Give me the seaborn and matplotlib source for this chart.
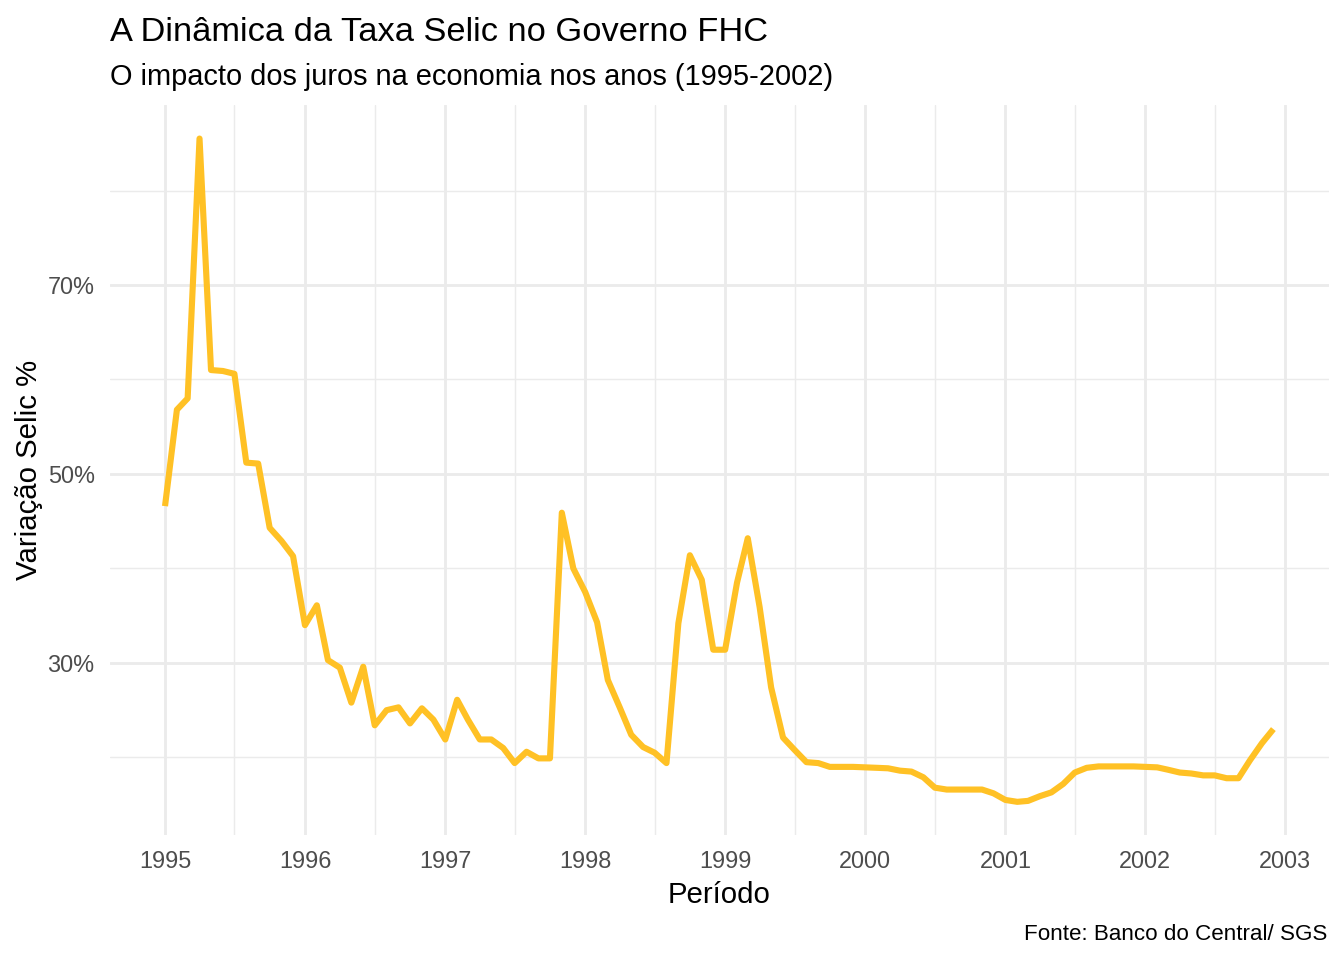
import matplotlib
matplotlib.use("Agg")
import matplotlib.pyplot as plt
import matplotlib.dates as mdates
from matplotlib.ticker import FixedLocator, FuncFormatter
import seaborn as sns
import pandas as pd

# ---- data ----
start_month = "1995-01-01"
n_months = 96
selic = [
    46.6, 56.8, 58.0, 85.5, 61.0, 60.9, 60.6, 51.2, 51.1, 44.3, 42.9, 41.3,   # 1995
    34.0, 36.1, 30.3, 29.5, 25.8, 29.6, 23.4, 25.0, 25.3, 23.6, 25.2, 24.0,   # 1996
    21.9, 26.1, 24.0, 21.9, 21.9, 21.0, 19.4, 20.6, 19.9, 19.9, 45.9, 40.0,   # 1997
    37.5, 34.3, 28.2, 25.3, 22.4, 21.1, 20.5, 19.4, 34.2, 41.4, 38.8, 31.4,   # 1998
    31.4, 38.5, 43.2, 35.9, 27.4, 22.1, 20.8, 19.5, 19.4, 19.0, 19.0, 19.0,   # 1999
    18.95, 18.9, 18.85, 18.6, 18.5, 17.9, 16.8, 16.6, 16.6, 16.6, 16.6, 16.2, # 2000
    15.5, 15.3, 15.4, 15.9, 16.3, 17.2, 18.4, 18.9, 19.05, 19.05, 19.05, 19.05, # 2001
    19.0, 18.95, 18.7, 18.4, 18.3, 18.1, 18.1, 17.8, 17.8, 19.7, 21.5, 23.0,  # 2002
]
y_major = [30, 50, 70]
y_minor = [20, 40, 60, 80]

title = "A Dinâmica da Taxa Selic no Governo FHC"
subtitle = "O impacto dos juros na economia nos anos (1995-2002)"
caption = "Fonte: Banco do Central/ SGS"
xlabel = "Período"
ylabel = "Variação Selic %"

df = pd.DataFrame({
    "data": pd.date_range(start_month, periods=n_months, freq="MS"),
    "selic": selic,
})

# ---- style ----
sns.set_theme(style="white")
plt.rcParams["font.family"] = ["Liberation Sans", "DejaVu Sans"]

W, H = 1344, 960
fig = plt.figure(figsize=(7, 5), dpi=192)
left, right = 109.6 / W, 1328.8 / W
top, bottom = 1 - 105.4 / H, 1 - 835.0 / H
ax = fig.add_axes([left, bottom, right - left, top - bottom])

sns.lineplot(data=df, x="data", y="selic", ax=ax, color="#FFC125",
             linewidth=2.3, solid_joinstyle="round", solid_capstyle="butt")
ax.margins(x=0.05, y=0.05)

# grid
ax.xaxis.set_major_locator(mdates.YearLocator())
ax.xaxis.set_major_formatter(mdates.DateFormatter("%Y"))
ax.xaxis.set_minor_locator(mdates.MonthLocator(bymonth=7))
ax.yaxis.set_major_locator(FixedLocator(y_major))
ax.yaxis.set_minor_locator(FixedLocator(y_minor))
ax.yaxis.set_major_formatter(FuncFormatter(lambda v, p: f"{v:.0f}%"))

ax.grid(which="major", color="#EBEBEB", linewidth=1.07)
ax.grid(which="minor", color="#EBEBEB", linewidth=0.53)
ax.set_axisbelow(True)
for s in ax.spines.values():
    s.set_visible(False)

ax.tick_params(axis="both", which="both", length=0)
ax.tick_params(axis="x", which="major", labelsize=8.8, labelcolor="#4D4D4D", pad=5.6)
ax.tick_params(axis="y", which="major", labelsize=8.8, labelcolor="#4D4D4D", pad=5.6)

ax.set_xlabel(xlabel, fontsize=11, color="black", labelpad=3.1)
ax.set_ylabel(ylabel, fontsize=11, color="black", labelpad=1.8)

fig.text(left, 1 - 40.7 / H, title, fontsize=12.9, color="black",
         ha="left", va="baseline")
fig.text(left, 1 - 85.0 / H, subtitle, fontsize=10.9, color="black",
         ha="left", va="baseline")
fig.text(1327 / W, 1 - 940 / H, caption, fontsize=8.4, color="black",
         ha="right", va="baseline")

fig.savefig("out.png", dpi=192, facecolor="white")
